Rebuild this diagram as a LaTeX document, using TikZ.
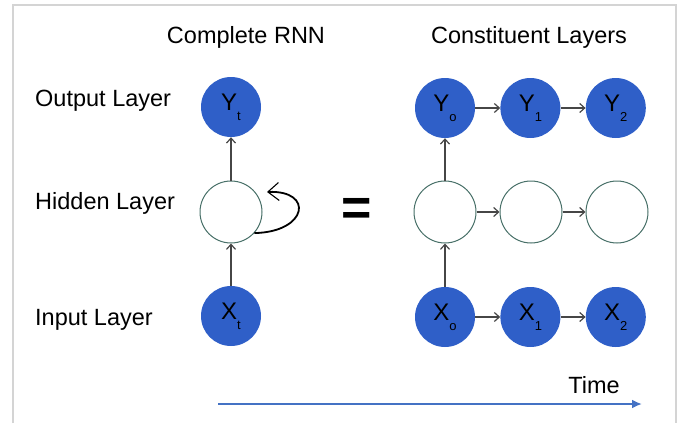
\documentclass[tikz,border=0pt]{standalone}
\usepackage{fontspec}
\setmainfont{Liberation Sans}
\usetikzlibrary{arrows.meta}
\usetikzlibrary{positioning}

\definecolor{unitblue}{RGB}{47,95,200}
\definecolor{hidedge}{RGB}{72,112,104}
\definecolor{linkgray}{RGB}{70,70,70}
\definecolor{timeblue}{RGB}{68,114,196}
\definecolor{framegray}{RGB}{212,212,212}

\newcommand{\unitlab}[2]{#1\raisebox{-.8ex}{\fontsize{13}{13}\selectfont #2}}

\tikzset{
  full/.style={circle, fill=unitblue, minimum size=60pt, inner sep=0pt,
    font=\fontsize{24}{24}\selectfont},
  empty/.style={circle, draw=hidedge, fill=white, line width=1pt,
    minimum size=62pt, inner sep=0pt},
  link/.style={draw=linkgray, line width=1.2pt,
    -{Straight Barb[length=5pt,width=9pt]}},
  layer/.style={font=\fontsize{23.5}{23.5}\selectfont, anchor=west, inner sep=0pt},
  title/.style={font=\fontsize{23.5}{23.5}\selectfont, inner sep=0pt},
}

\begin{document}
\begin{tikzpicture}[x=1pt, y=-1pt]
    \useasboundingbox (0,0) rectangle (680,423);
    \draw[framegray, line width=1.5pt] (13,423) -- (13,5) -- (676,5) -- (676,423);
    % titles and row names
    \node[title] (t0) at (246,37) {Complete RNN};
    \node[title] (t1) at (529,37) {Constituent Layers};
    \node[layer] (l0) at (35,101) {Output Layer};
    \node[layer] (l1) at (35,203) {Hidden Layer};
    \node[layer] (l2) at (35,320) {Input Layer};
    % complete RNN
    \node[full] (yt) at (231,107) {\unitlab{Y}{t}};
    \node[empty] (ht) at (231,212) {};
    \node[full] (xt) at (231,316) {\unitlab{X}{t}};
    \draw[link] (xt) -- (ht);
    \draw[link] (ht) -- (yt);
    \coordinate (loop) at (267,192);
    \draw[line width=1.8pt, -{Straight Barb[length=11pt,width=18pt,line width=1.1pt]}]
      (ht.-42) .. controls (308,232) and (314,190) .. (loop);
    \node[font=\bfseries\fontsize{52}{52}\selectfont, inner sep=0pt] (eq) at (357,212) {=};
    % unrolled layers
    \node[full] (y0) at (445,108) {\unitlab{Y}{o}};
    \node[full] (y1) [right=25pt of y0] {\unitlab{Y}{1}};
    \node[full] (y2) [right=25pt of y1] {\unitlab{Y}{2}};
    \node[empty] (h0) at (445,212) {};
    \node[empty] (h1) [right=23pt of h0] {};
    \node[empty] (h2) [right=23pt of h1] {};
    \node[full] (x0) at (445,317) {\unitlab{X}{o}};
    \node[full] (x1) [right=25pt of x0] {\unitlab{X}{1}};
    \node[full] (x2) [right=25pt of x1] {\unitlab{X}{2}};
    \draw[link] (x0) -- (h0);
    \draw[link] (h0) -- (y0);
    \draw[link] (y0) -- (y1);
    \draw[link] (y1) -- (y2);
    \draw[link] (h0) -- (h1);
    \draw[link] (h1) -- (h2);
    \draw[link] (x0) -- (x1);
    \draw[link] (x1) -- (x2);
    % time axis
    \node[title] (tm) at (594,385) {Time};
    \coordinate (ts) at (218,404);
    \coordinate (te) at (642,404);
    \draw[timeblue, line width=2pt, -{Latex[length=10pt,width=9pt]}] (ts) -- (te);
\end{tikzpicture}
\end{document}
